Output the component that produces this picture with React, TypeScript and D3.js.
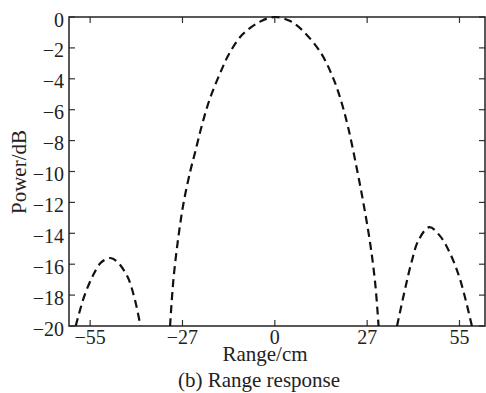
import React, {useEffect, useRef} from "react";
import * as d3 from "d3";

// values (null = below the -20 dB floor, line broken there)
const rangeCm = [
    -61.3, -59.3, -56.8, -54.3, -51.8, -49.0, -46.9, -43.9, -41.9, -40.0,
    -35.5,
    -31.2, -30.2, -28.7, -27.2, -25.2, -23.7, -21.7, -19.3, -16.3, -13.8, -9.8, -4.4, 0,
    4.4, 8.1, 13.5, 17.0, 19.5, 21.9, 24.4, 26.4, 28.4, 29.9, 30.9,
    33.6,
    36.4, 38.8, 40.8, 42.8, 46.0, 49.3, 52.2, 55.2, 58.7,
    62.0
];
const powerDb = [
    null, -20, -18.1, -16.8, -15.9, -15.6, -15.85, -16.8, -18.1, -20,
    null,
    -20, -17.0, -14.2, -12.06, -10.0, -8.72, -6.99, -5.26, -3.64, -2.46, -1.17, -0.3, 0,
    -0.25, -0.84, -2.25, -3.75, -5.26, -7.2, -9.79, -12.06, -14.65, -17.24, -20,
    null,
    -20, -17.6, -15.8, -14.45, -13.6, -14.2, -15.3, -17.0, -20,
    null
];
const xTicks = [-55, -27.5, 0, 27.5, 55];
const xTickLabels = ["\u221255", "\u221227", "0", "27", "55"];
const yTicks = [0, -2, -4, -6, -8, -10, -12, -14, -16, -18, -20];

export default function App() {
    const ref = useRef<SVGSVGElement>(null);

    useEffect(() => {
        const W = 486, H = 393;
        const left = 69, right = 485, top = 17, bottom = 326;
        const font = "'Liberation Serif', 'Times New Roman', serif";

        const svg = d3.select(ref.current);
        svg.selectAll("*").remove();

        let x = d3.scaleLinear().domain([-61.3, 62.6]).range([left, right]);
        let y = d3.scaleLinear().domain([-20, 0]).range([bottom, top]);

        svg.append("rect").attr("width", W).attr("height", H).attr("fill", "#fff");

        svg.append("clipPath").attr("id", "plot-clip")
            .append("rect")
            .attr("x", left).attr("y", top - 2)
            .attr("width", right - left).attr("height", bottom - top + 2);

        // ticks, pointing inward on all four sides
        const tickLen = 6;
        const ticks = svg.append("g").attr("stroke", "#333").attr("stroke-width", 1.2);
        xTicks.forEach(t => {
            ticks.append("line").attr("x1", x(t)).attr("x2", x(t)).attr("y1", bottom).attr("y2", bottom - tickLen);
            ticks.append("line").attr("x1", x(t)).attr("x2", x(t)).attr("y1", top).attr("y2", top + tickLen);
        });
        yTicks.forEach(t => {
            ticks.append("line").attr("x1", left).attr("x2", left + tickLen).attr("y1", y(t)).attr("y2", y(t));
            ticks.append("line").attr("x1", right).attr("x2", right - tickLen).attr("y1", y(t)).attr("y2", y(t));
        });

        // frame
        svg.append("rect")
            .attr("x", left).attr("y", top)
            .attr("width", right - left).attr("height", bottom - top)
            .attr("fill", "none").attr("stroke", "#222").attr("stroke-width", 1.5);

        // tick labels
        svg.append("g").selectAll("text")
            .data(xTicks)
            .enter().append("text")
            .attr("x", d => x(d))
            .attr("y", bottom + 18)
            .attr("text-anchor", "middle")
            .attr("font-family", font).attr("font-size", 20).attr("fill", "#222")
            .text((d, i) => xTickLabels[i]);

        svg.append("g").selectAll("text")
            .data(yTicks)
            .enter().append("text")
            .attr("x", left - 5)
            .attr("y", d => y(d) + 9.5)
            .attr("text-anchor", "end")
            .attr("font-family", font).attr("font-size", 20).attr("fill", "#222")
            .text(d => d === 0 ? "0" : "\u2212" + Math.abs(d));

        // axis titles
        svg.append("text")
            .attr("x", 265).attr("y", 361)
            .attr("text-anchor", "middle")
            .attr("font-family", font).attr("font-size", 21).attr("fill", "#222")
            .text("Range/cm");

        svg.append("text")
            .attr("transform", "rotate(-90)")
            .attr("x", -172).attr("y", 26)
            .attr("text-anchor", "middle")
            .attr("font-family", font).attr("font-size", 21).attr("fill", "#222")
            .text("Power/dB");

        svg.append("text")
            .attr("x", 259).attr("y", 387)
            .attr("text-anchor", "middle")
            .attr("font-family", font).attr("font-size", 21).attr("fill", "#222")
            .text("(b) Range response");

        // the dashed response curve
        const pts = rangeCm.map((r, i) => ({r, p: powerDb[i]}));
        const line = d3.line<{r: number, p: number | null}>()
            .defined(d => d.p !== null)
            .x(d => x(d.r))
            .y(d => y(d.p as number))
            .curve(d3.curveCatmullRom);

        svg.append("path")
            .datum(pts)
            .attr("clip-path", "url(#plot-clip)")
            .attr("fill", "none")
            .attr("stroke", "#111")
            .attr("stroke-width", 2.2)
            .attr("stroke-dasharray", "8,5")
            .attr("d", line);
    }, []);

    return <svg ref={ref} width={486} height={393}
                style={{position: "absolute", left: 0, top: 0, display: "block"}}/>;
}
